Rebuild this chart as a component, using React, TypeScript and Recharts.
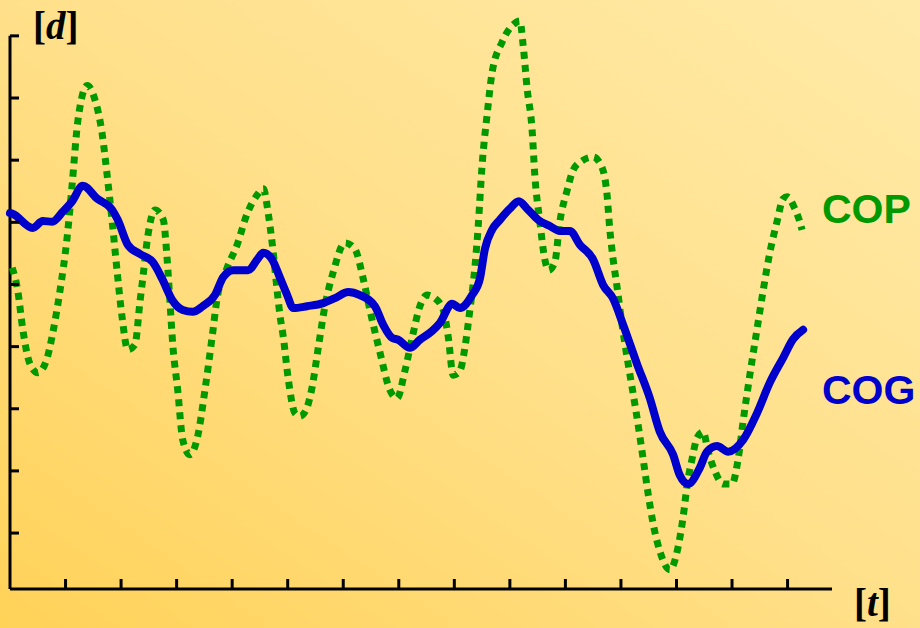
import React from 'react';
import { LineChart, Line, XAxis, YAxis, ReferenceLine } from 'recharts';

// COG (centre of gravity) trace
const cogT = [0, 0.04, 0.41, 0.59, 0.76, 0.95, 1.12, 1.31, 1.57, 1.84, 1.94, 2.12, 2.34, 2.57, 2.74, 2.92, 3.11, 3.29, 3.47, 3.69, 3.84, 4.02, 4.29, 4.45, 4.56, 4.72, 4.86, 4.99, 5.1, 5.35, 5.64, 5.85, 6.09, 6.3, 6.57, 6.72, 6.88, 6.99, 7.2, 7.38, 7.6, 7.74, 7.96, 8.1, 8.32, 8.46, 8.55, 8.68, 8.82, 9.0, 9.16, 9.33, 9.51, 9.72, 9.9, 10.08, 10.26, 10.5, 10.68, 10.86, 11.04, 11.29, 11.52, 11.7, 11.94, 12.06, 12.21, 12.42, 12.55, 12.73, 12.93, 13.2, 13.45, 13.68, 13.92, 14.1, 14.28];
const cogD = [6.05, 6.04, 5.81, 5.92, 5.91, 6.07, 6.24, 6.49, 6.28, 6.1, 5.94, 5.54, 5.39, 5.26, 4.99, 4.65, 4.49, 4.46, 4.55, 4.73, 5.02, 5.13, 5.13, 5.3, 5.41, 5.3, 5.01, 4.73, 4.52, 4.55, 4.6, 4.68, 4.78, 4.73, 4.55, 4.25, 4.04, 4.01, 3.88, 4.01, 4.15, 4.28, 4.59, 4.52, 4.73, 4.99, 5.47, 5.78, 5.94, 6.12, 6.24, 6.1, 5.94, 5.84, 5.76, 5.76, 5.54, 5.3, 4.89, 4.67, 4.25, 3.62, 3.07, 2.53, 2.16, 1.83, 1.69, 1.95, 2.21, 2.3, 2.21, 2.4, 2.83, 3.32, 3.72, 4.02, 4.17];

// COP (centre of pressure) trace
const copT = [0.04, 0.14, 0.23, 0.36, 0.5, 0.67, 0.77, 0.9, 1.03, 1.12, 1.22, 1.39, 1.53, 1.66, 1.75, 1.84, 1.93, 2.02, 2.12, 2.25, 2.34, 2.39, 2.48, 2.61, 2.76, 2.83, 2.88, 2.93, 3.02, 3.11, 3.24, 3.38, 3.51, 3.64, 3.73, 3.91, 4.09, 4.27, 4.45, 4.56, 4.65, 4.74, 4.81, 4.86, 4.92, 5.01, 5.13, 5.22, 5.33, 5.44, 5.55, 5.67, 5.82, 6.03, 6.21, 6.36, 6.48, 6.66, 6.84, 6.97, 7.11, 7.26, 7.38, 7.51, 7.65, 7.8, 7.89, 7.98, 8.1, 8.19, 8.28, 8.37, 8.43, 8.5, 8.59, 8.68, 8.86, 9.06, 9.18, 9.24, 9.31, 9.4, 9.45, 9.54, 9.63, 9.7, 9.81, 9.9, 10.03, 10.14, 10.3, 10.5, 10.66, 10.75, 10.8, 10.86, 10.93, 11.02, 11.13, 11.22, 11.31, 11.4, 11.49, 11.58, 11.7, 11.88, 12.03, 12.12, 12.19, 12.28, 12.37, 12.48, 12.57, 12.69, 12.84, 13.0, 13.11, 13.2, 13.32, 13.45, 13.56, 13.68, 13.81, 13.92, 13.99, 14.13, 14.22, 14.26];
const copD = [5.17, 4.8, 4.18, 3.62, 3.48, 3.72, 4.12, 4.8, 5.67, 6.52, 7.52, 8.1, 7.87, 7.32, 6.65, 5.91, 5.1, 4.36, 3.85, 3.93, 4.62, 4.99, 5.67, 6.1, 5.94, 5.3, 4.62, 3.94, 3.2, 2.4, 2.16, 2.46, 3.2, 4.06, 4.68, 5.17, 5.54, 6.04, 6.34, 6.44, 6.04, 5.41, 4.8, 4.41, 4.06, 3.38, 2.83, 2.78, 2.88, 3.25, 3.88, 4.55, 5.1, 5.57, 5.47, 4.99, 4.49, 3.81, 3.2, 3.07, 3.51, 4.12, 4.55, 4.73, 4.68, 4.49, 4.06, 3.44, 3.51, 3.88, 4.49, 5.17, 5.84, 6.82, 7.63, 8.31, 8.8, 9.08, 9.14, 8.74, 8.06, 7.39, 6.65, 5.91, 5.3, 5.13, 5.26, 5.91, 6.41, 6.74, 6.89, 6.95, 6.78, 6.34, 5.78, 5.3, 4.86, 4.25, 3.62, 3.14, 2.64, 2.09, 1.53, 1.05, 0.61, 0.31, 0.68, 1.16, 1.66, 2.09, 2.43, 2.53, 2.21, 1.9, 1.69, 1.69, 2.09, 2.7, 3.44, 4.18, 4.8, 5.41, 5.91, 6.28, 6.31, 6.12, 5.91, 5.78];

const xTicks = [1, 2, 3, 4, 5, 6, 7, 8, 9, 10, 11, 12, 13, 14];
const yTicks = [0.9, 1.9, 2.9, 3.9, 4.9, 5.9, 6.9, 7.9, 8.9];

const cogData = cogT.map((t, i) => ({ t, d: cogD[i] }));
const copData = copT.map((t, i) => ({ t, d: copD[i] }));

const GREEN = '#009900';
const BLUE = '#0000cc';

// ticks carry no labels, only the marks
const NoLabel = () => <g />;

export default function App() {
  return (
    <div
      style={{
        position: 'absolute',
        left: 0,
        top: 0,
        width: 920,
        height: 628,
        background: 'linear-gradient(to top right, #ffd258 0%, #ffe08a 50%, #ffeaa8 100%)',
        overflow: 'hidden',
      }}
    >
      <LineChart width={920} height={628} margin={{ top: 11, right: 88, bottom: 0, left: 0 }}>
        <XAxis
          type="number"
          dataKey="t"
          domain={[0, 14.8]}
          ticks={xTicks}
          tick={NoLabel}
          tickSize={-10}
          height={39}
          axisLine={{ stroke: '#000', strokeWidth: 3 }}
          tickLine={{ stroke: '#000', strokeWidth: 3 }}
        />
        <YAxis
          type="number"
          dataKey="d"
          domain={[0, 9.3]}
          ticks={yTicks}
          tick={NoLabel}
          tickSize={-9}
          width={10}
          axisLine={false}
          tickLine={{ stroke: '#000', strokeWidth: 3 }}
        />
        <ReferenceLine
          segment={[{ x: 0, y: 0 }, { x: 0, y: 8.9 }]}
          stroke="#000"
          strokeWidth={3}
        />
        <Line
          data={copData}
          dataKey="d"
          type="monotone"
          stroke={GREEN}
          strokeWidth={7}
          strokeDasharray="7 6"
          dot={false}
          isAnimationActive={false}
        />
        <Line
          data={cogData}
          dataKey="d"
          type="monotone"
          stroke={BLUE}
          strokeWidth={8}
          strokeLinecap="round"
          strokeLinejoin="round"
          dot={false}
          isAnimationActive={false}
        />
      </LineChart>
      <svg
        width={920}
        height={628}
        style={{ position: 'absolute', left: 0, top: 0, pointerEvents: 'none' }}
      >
        <text x={33} y={39} fontFamily="'Liberation Serif', serif" fontWeight="bold" fontSize={39} fill="#000">
          [<tspan fontStyle="italic">d</tspan>]
        </text>
        <text x={854} y={616} fontFamily="'Liberation Serif', serif" fontWeight="bold" fontSize={39} fill="#000">
          [<tspan fontStyle="italic">t</tspan>]
        </text>
        <text x={822} y={223} fontFamily="'Liberation Sans', Arial, sans-serif" fontWeight="bold" fontSize={41} fill={GREEN}>
          COP
        </text>
        <text x={822} y={404} fontFamily="'Liberation Sans', Arial, sans-serif" fontWeight="bold" fontSize={41} fill={BLUE}>
          COG
        </text>
      </svg>
    </div>
  );
}
